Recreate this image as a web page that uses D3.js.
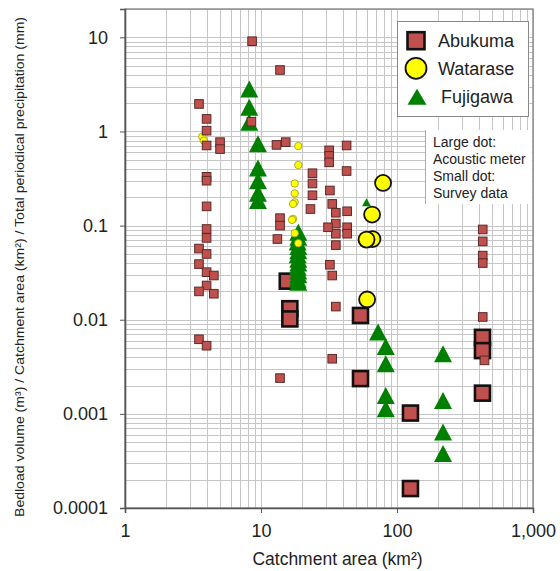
<!DOCTYPE html>
<html>
<head>
<meta charset="utf-8">
<script src="https://cdn.jsdelivr.net/npm/d3@7"></script>
<style>
  body { margin: 0; background: #fff; }
  text { font-family: "Liberation Sans", Arial, sans-serif; fill: #222; }
</style>
</head>
<body>
<svg id="chart" width="560" height="571"></svg>
<script>
// Data: [catchment area km2, bedload / area / precipitation]
const abukumaSurvey = [
  [3.5, 1.96], [3.98, 1.36], [3.98, 1.02], [3.98, 0.71], [5.0, 0.77], [5.0, 0.65],
  [3.98, 0.33], [3.98, 0.30], [3.98, 0.16], [3.98, 0.092], [3.98, 0.074], [3.5, 0.057],
  [3.98, 0.050], [3.5, 0.039], [3.98, 0.032], [4.5, 0.0295], [3.98, 0.0231], [3.5, 0.020],
  [4.5, 0.0189], [3.5, 0.0062], [3.98, 0.0053],
  [8.6, 9.1], [13.8, 4.5], [8.5, 1.27], [13.0, 0.72], [15.2, 0.77],
  [31.7, 0.63], [31.7, 0.55], [31.7, 0.47], [23.9, 0.36], [23.9, 0.28], [23.9, 0.21],
  [32.1, 0.236], [23.1, 0.15], [33.4, 0.17], [35.5, 0.137], [35.5, 0.105], [35.5, 0.082],
  [35.5, 0.062], [13.8, 0.12], [13.8, 0.10], [13.2, 0.072], [43, 0.142], [43, 0.096],
  [43, 0.082], [31.1, 0.096], [42.6, 0.71], [42.6, 0.38], [32.1, 0.0384], [33.4, 0.0295],
  [35.5, 0.0138], [33.4, 0.00385], [13.8, 0.0024],
  [427, 0.091], [427, 0.068], [427, 0.048], [427, 0.040], [427, 0.0107], [440, 0.0037]
];
const abukumaAcoustic = [
  [15.6, 0.0257], [16.3, 0.0131], [16.3, 0.0102], [53.9, 0.0111], [53.9, 0.00237],
  [125.6, 0.00102], [125.6, 0.000161], [425, 0.0065], [425, 0.0047], [425, 0.00166]
];
const watarseSurvey = [
  [3.7, 0.88], [3.8, 0.80], [18.8, 0.70], [18.8, 0.44], [17.7, 0.28], [17.7, 0.22],
  [17.7, 0.177], [17.2, 0.17], [17.2, 0.118], [16.9, 0.115], [17.7, 0.083], [18.8, 0.065]
];
const watarseAcoustic = [
  [79, 0.284], [65.6, 0.131], [66, 0.072], [59.7, 0.071], [60.3, 0.0164]
];
const fujigawaAcoustic = [
  [8.2, 2.83], [8.2, 1.81], [8.2, 1.25], [9.5, 0.74], [9.5, 0.41], [9.5, 0.30],
  [9.5, 0.22], [9.5, 0.185],
  [18.8, 0.085], [18.8, 0.075], [18.6, 0.067], [18.8, 0.060], [18.8, 0.054], [18.6, 0.049],
  [18.8, 0.044], [18.8, 0.040], [18.6, 0.036], [18.8, 0.033], [18.8, 0.030], [18.6, 0.027],
  [18.8, 0.025],
  [72.6, 0.0074], [82.7, 0.0052], [82.7, 0.0034], [82.7, 0.00157], [82.7, 0.00113],
  [218, 0.00436], [218, 0.00139], [218, 0.00064], [218, 0.00038]
];
const fujigawaSurvey = [[59.7, 0.177]];

const xTicks = [1, 10, 100, 1000];
const yTicks = [0.0001, 0.001, 0.01, 0.1, 1, 10];
const legendNames = ["Abukuma", "Watarase", "Fujigawa"];
const noteLines = ["Large dot:", "Acoustic meter", "Small dot:", "Survey data"];

const plot = { left: 125, right: 533, top: 9, bottom: 508 };
const svg = d3.select("#chart");

const x = d3.scaleLog().domain([1, 1000]).range([plot.left, plot.right]);
const y = d3.scaleLog().domain([0.0001, 20]).range([plot.bottom, plot.top]);

// grid values 1..9 x 10^k inside the domain
const gridVals = (lo, hi) => {
  const out = [];
  for (let k = Math.floor(Math.log10(lo)); k <= Math.ceil(Math.log10(hi)); k++) {
    for (let m = 1; m <= 9; m++) {
      const v = m * Math.pow(10, k);
      if (v >= lo * 0.999 && v <= hi * 1.001) out.push(v);
    }
  }
  return out;
};

const grid = svg.append("g").attr("stroke", "#c6c6c6").attr("stroke-width", 1);
grid.selectAll(".vg").data(gridVals(1, 1000)).enter().append("line")
  .attr("x1", d => Math.round(x(d)) + 0.5).attr("x2", d => Math.round(x(d)) + 0.5)
  .attr("y1", plot.top).attr("y2", plot.bottom);
grid.selectAll(".hg").data(gridVals(0.0001, 20)).enter().append("line")
  .attr("y1", d => Math.round(y(d)) + 0.5).attr("y2", d => Math.round(y(d)) + 0.5)
  .attr("x1", plot.left).attr("x2", plot.right);

// frame
svg.append("rect")
  .attr("x", plot.left).attr("y", plot.top)
  .attr("width", plot.right - plot.left).attr("height", plot.bottom - plot.top)
  .attr("fill", "none").attr("stroke", "#808080").attr("stroke-width", 1.3);

// axes
const fmtX = d => d3.format(",")(d);
const fmtY = d => (d < 1 ? String(d) : d3.format(",")(d));
const xAxis = svg.append("g").attr("transform", `translate(0,${plot.bottom})`)
  .call(d3.axisBottom(x).tickValues(xTicks).tickFormat(fmtX).tickSize(5).tickPadding(11));
const yAxis = svg.append("g").attr("transform", `translate(${plot.left},0)`)
  .call(d3.axisLeft(y).tickValues(yTicks).tickFormat(fmtY).tickSize(5).tickPadding(12));
[xAxis, yAxis].forEach(g => {
  g.select(".domain").attr("stroke", "#555").attr("stroke-width", 1.6);
  g.selectAll(".tick line").attr("stroke", "#555");
  g.selectAll(".tick text").style("font-size", "18px").style("font-family", '"Liberation Sans", Arial, sans-serif').attr("fill", "#222");
});

// markers
const tri = (w, h) => `M0,${-h / 2}L${w / 2},${h / 2}L${-w / 2},${h / 2}Z`;
const marks = svg.append("g");

marks.selectAll(".wa").data(watarseAcoustic).enter().append("circle")
  .attr("cx", d => x(d[0])).attr("cy", d => y(d[1])).attr("r", 8)
  .attr("fill", "#ffff00").attr("stroke", "#111").attr("stroke-width", 1.8);

marks.selectAll(".aa").data(abukumaAcoustic).enter().append("rect")
  .attr("x", d => x(d[0]) - 7.5).attr("y", d => y(d[1]) - 7.5)
  .attr("width", 15).attr("height", 15)
  .attr("fill", "#c0504d").attr("stroke", "#111").attr("stroke-width", 2.6);

marks.selectAll(".fa").data(fujigawaAcoustic).enter().append("path")
  .attr("transform", d => `translate(${x(d[0])},${y(d[1])})`)
  .attr("d", tri(18, 17)).attr("fill", "#008000");

marks.selectAll(".ws").data(watarseSurvey).enter().append("circle")
  .attr("cx", d => x(d[0])).attr("cy", d => y(d[1])).attr("r", 3.7)
  .attr("fill", "#ffff00").attr("stroke", "#9a9a20").attr("stroke-width", 0.8);

marks.selectAll(".as").data(abukumaSurvey).enter().append("rect")
  .attr("x", d => x(d[0]) - 4.3).attr("y", d => y(d[1]) - 4.3)
  .attr("width", 8.6).attr("height", 8.6)
  .attr("fill", "#c0504d").attr("stroke", "#5a2a28").attr("stroke-width", 1);

marks.selectAll(".fs").data(fujigawaSurvey).enter().append("path")
  .attr("transform", d => `translate(${x(d[0])},${y(d[1])})`)
  .attr("d", tri(9, 8)).attr("fill", "#008000");

// legend
const lg = svg.append("g");
lg.append("rect").attr("x", 397.5).attr("y", 21.5).attr("width", 131).attr("height", 95)
  .attr("fill", "#fff").attr("stroke", "#888").attr("stroke-width", 1);
const rowY = [40.7, 68.3, 96.7];
lg.append("rect").attr("x", 416 - 8.5).attr("y", rowY[0] - 8.5).attr("width", 17).attr("height", 17)
  .attr("fill", "#c0504d").attr("stroke", "#111").attr("stroke-width", 2.6);
lg.append("circle").attr("cx", 416).attr("cy", rowY[1]).attr("r", 10.5)
  .attr("fill", "#ffff00").attr("stroke", "#111").attr("stroke-width", 1.8);
lg.append("path").attr("transform", `translate(417,${rowY[2]})`).attr("d", tri(19, 16)).attr("fill", "#008000");
lg.selectAll(".lt").data(legendNames).enter().append("text")
  .attr("x", (d, i) => (i === 2 ? 441 : 438)).attr("y", (d, i) => rowY[i] + 6.5)
  .style("font-size", "18px").text(d => d);

// note box
const nb = svg.append("g");
nb.append("rect").attr("x", 425).attr("y", 130).attr("width", 107).attr("height", 74).attr("fill", "#fff");
nb.append("line").attr("x1", 425.5).attr("x2", 425.5).attr("y1", 130).attr("y2", 204)
  .attr("stroke", "#aaa").attr("stroke-width", 1);
nb.selectAll(".nt").data(noteLines).enter().append("text")
  .attr("x", 433).attr("y", (d, i) => 146.5 + i * 17)
  .style("font-size", "14px").text(d => d);

// axis titles
svg.append("text").attr("x", 337.5).attr("y", 565).attr("text-anchor", "middle")
  .style("font-size", "17.5px").text("Catchment area (km²)");
svg.append("text")
  .attr("transform", "translate(24,267) rotate(-90)")
  .attr("text-anchor", "middle")
  .attr("textLength", 500).attr("lengthAdjust", "spacingAndGlyphs")
  .style("font-size", "13px")
  .text("Bedload volume (m³) / Catchment area (km²) / Total periodical precipitation (mm)");
</script>
</body>
</html>
